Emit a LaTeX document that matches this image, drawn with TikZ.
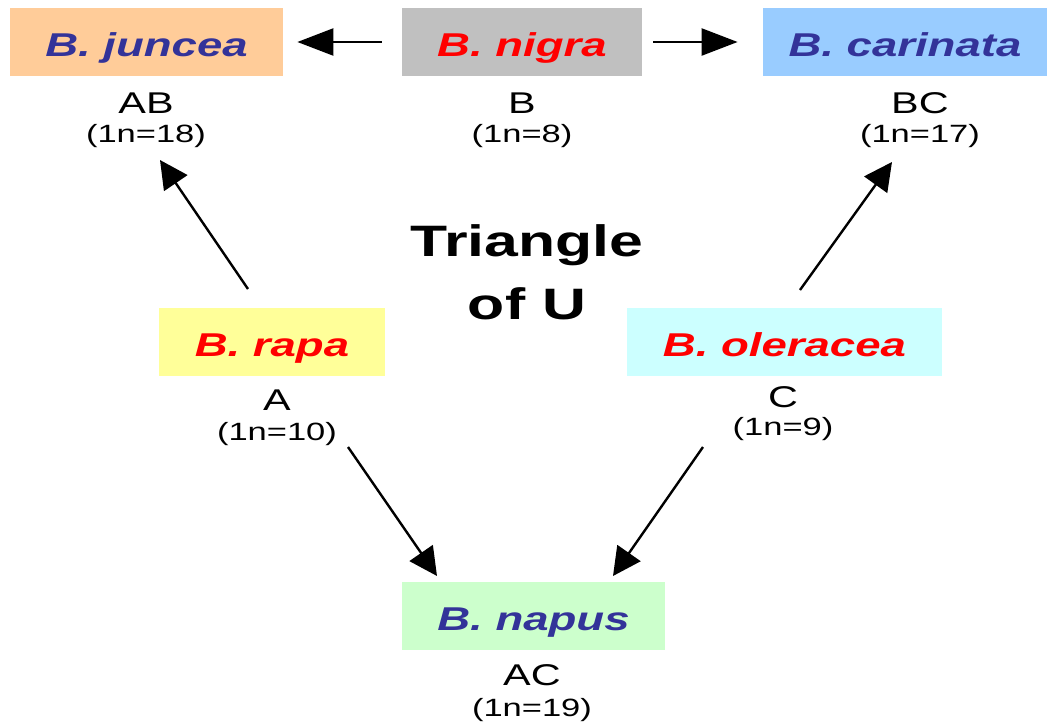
\documentclass[tikz,border=0pt]{standalone}
\usepackage{fontspec}
\setmainfont{Liberation Sans}[FakeStretch=1.38]
\usetikzlibrary{arrows.meta}
\definecolor{peach}{HTML}{FFCC99}
\definecolor{silvergray}{HTML}{C0C0C0}
\definecolor{skyblue}{HTML}{99CCFF}
\definecolor{paleyellow}{HTML}{FFFF99}
\definecolor{palecyan}{HTML}{CCFFFF}
\definecolor{palegreen}{HTML}{CCFFCC}
\definecolor{inkblue}{HTML}{333399}
\definecolor{inkred}{HTML}{FF0000}
\tikzset{
  species/.style={font=\fontsize{16.5}{19}\selectfont\bfseries\itshape, minimum height=34pt,
    inner sep=0pt, text height=14pt, text depth=0pt},
  genome/.style={font=\fontsize{15}{17}\selectfont, anchor=base},
  count/.style={font=\fontsize{12.5}{14}\selectfont, anchor=base},
  cross/.style={-{Triangle[length=14pt,width=14pt]}, line width=1.2pt},
  crossh/.style={-{Triangle[length=18pt,width=13.5pt]}, line width=1.2pt}
}
\begin{document}
\begin{tikzpicture}[x=0.5pt,y=-0.5pt]
  \useasboundingbox (0,0) rectangle (1057,723);
  % diploids
  \node[species, fill=silvergray, text=inkred, minimum width=120pt] (nigra) at (522,42) {B. nigra};
  \node[species, fill=paleyellow, text=inkred, minimum width=113pt] (rapa) at (272,342) {B. rapa};
  \node[species, fill=palecyan, text=inkred, minimum width=157.5pt] (oleracea) at (784.5,342) {B. oleracea};
  % amphidiploids
  \node[species, fill=peach, text=inkblue, minimum width=136.5pt] (juncea) at (146.5,42) {B. juncea};
  \node[species, fill=skyblue, text=inkblue, minimum width=142pt] (carinata) at (905,42) {B. carinata};
  \node[species, fill=palegreen, text=inkblue, minimum width=131.5pt] (napus) at (533.5,616) {B. napus};
  % genomes
  \node[genome] (junceag) at (146,113) {AB};
  \node[count] (juncean) at (146,142) {(1n=18)};
  \node[genome] (nigrag) at (522,113) {B};
  \node[count] (nigran) at (522,142) {(1n=8)};
  \node[genome] (carinatag) at (920,113) {BC};
  \node[count] (carinatan) at (920,142) {(1n=17)};
  \node[genome] (rapag) at (277,410) {A};
  \node[count] (rapan) at (277,440) {(1n=10)};
  \node[genome] (oleraceag) at (783,407) {C};
  \node[count] (oleracean) at (783,435) {(1n=9)};
  \node[genome] (napusg) at (532,685) {AC};
  \node[count] (napusn) at (532,716) {(1n=19)};
  \node[font=\fontsize{22}{31.5}\selectfont\bfseries, align=center] (title) at (527,272) {Triangle\\of U};
  % crosses
  \coordinate (rapaup) at (248,289);
  \coordinate (junceadown) at (160,160);
  \coordinate (oleraceaup) at (800,290);
  \coordinate (carinatadown) at (892,162);
  \coordinate (rapadown) at (348,447);
  \coordinate (napusleft) at (437,576);
  \coordinate (oleraceadown) at (703,447);
  \coordinate (napusright) at (613,576);
  \draw[crossh, shorten <=10pt, shorten >=7pt] (nigra.west) -- (juncea.east);
  \draw[crossh, shorten <=5.5pt, shorten >=12.5pt] (nigra.east) -- (carinata.west);
  \draw[cross] (rapaup) -- (junceadown);
  \draw[cross] (oleraceaup) -- (carinatadown);
  \draw[cross] (rapadown) -- (napusleft);
  \draw[cross] (oleraceadown) -- (napusright);
\end{tikzpicture}
\end{document}
